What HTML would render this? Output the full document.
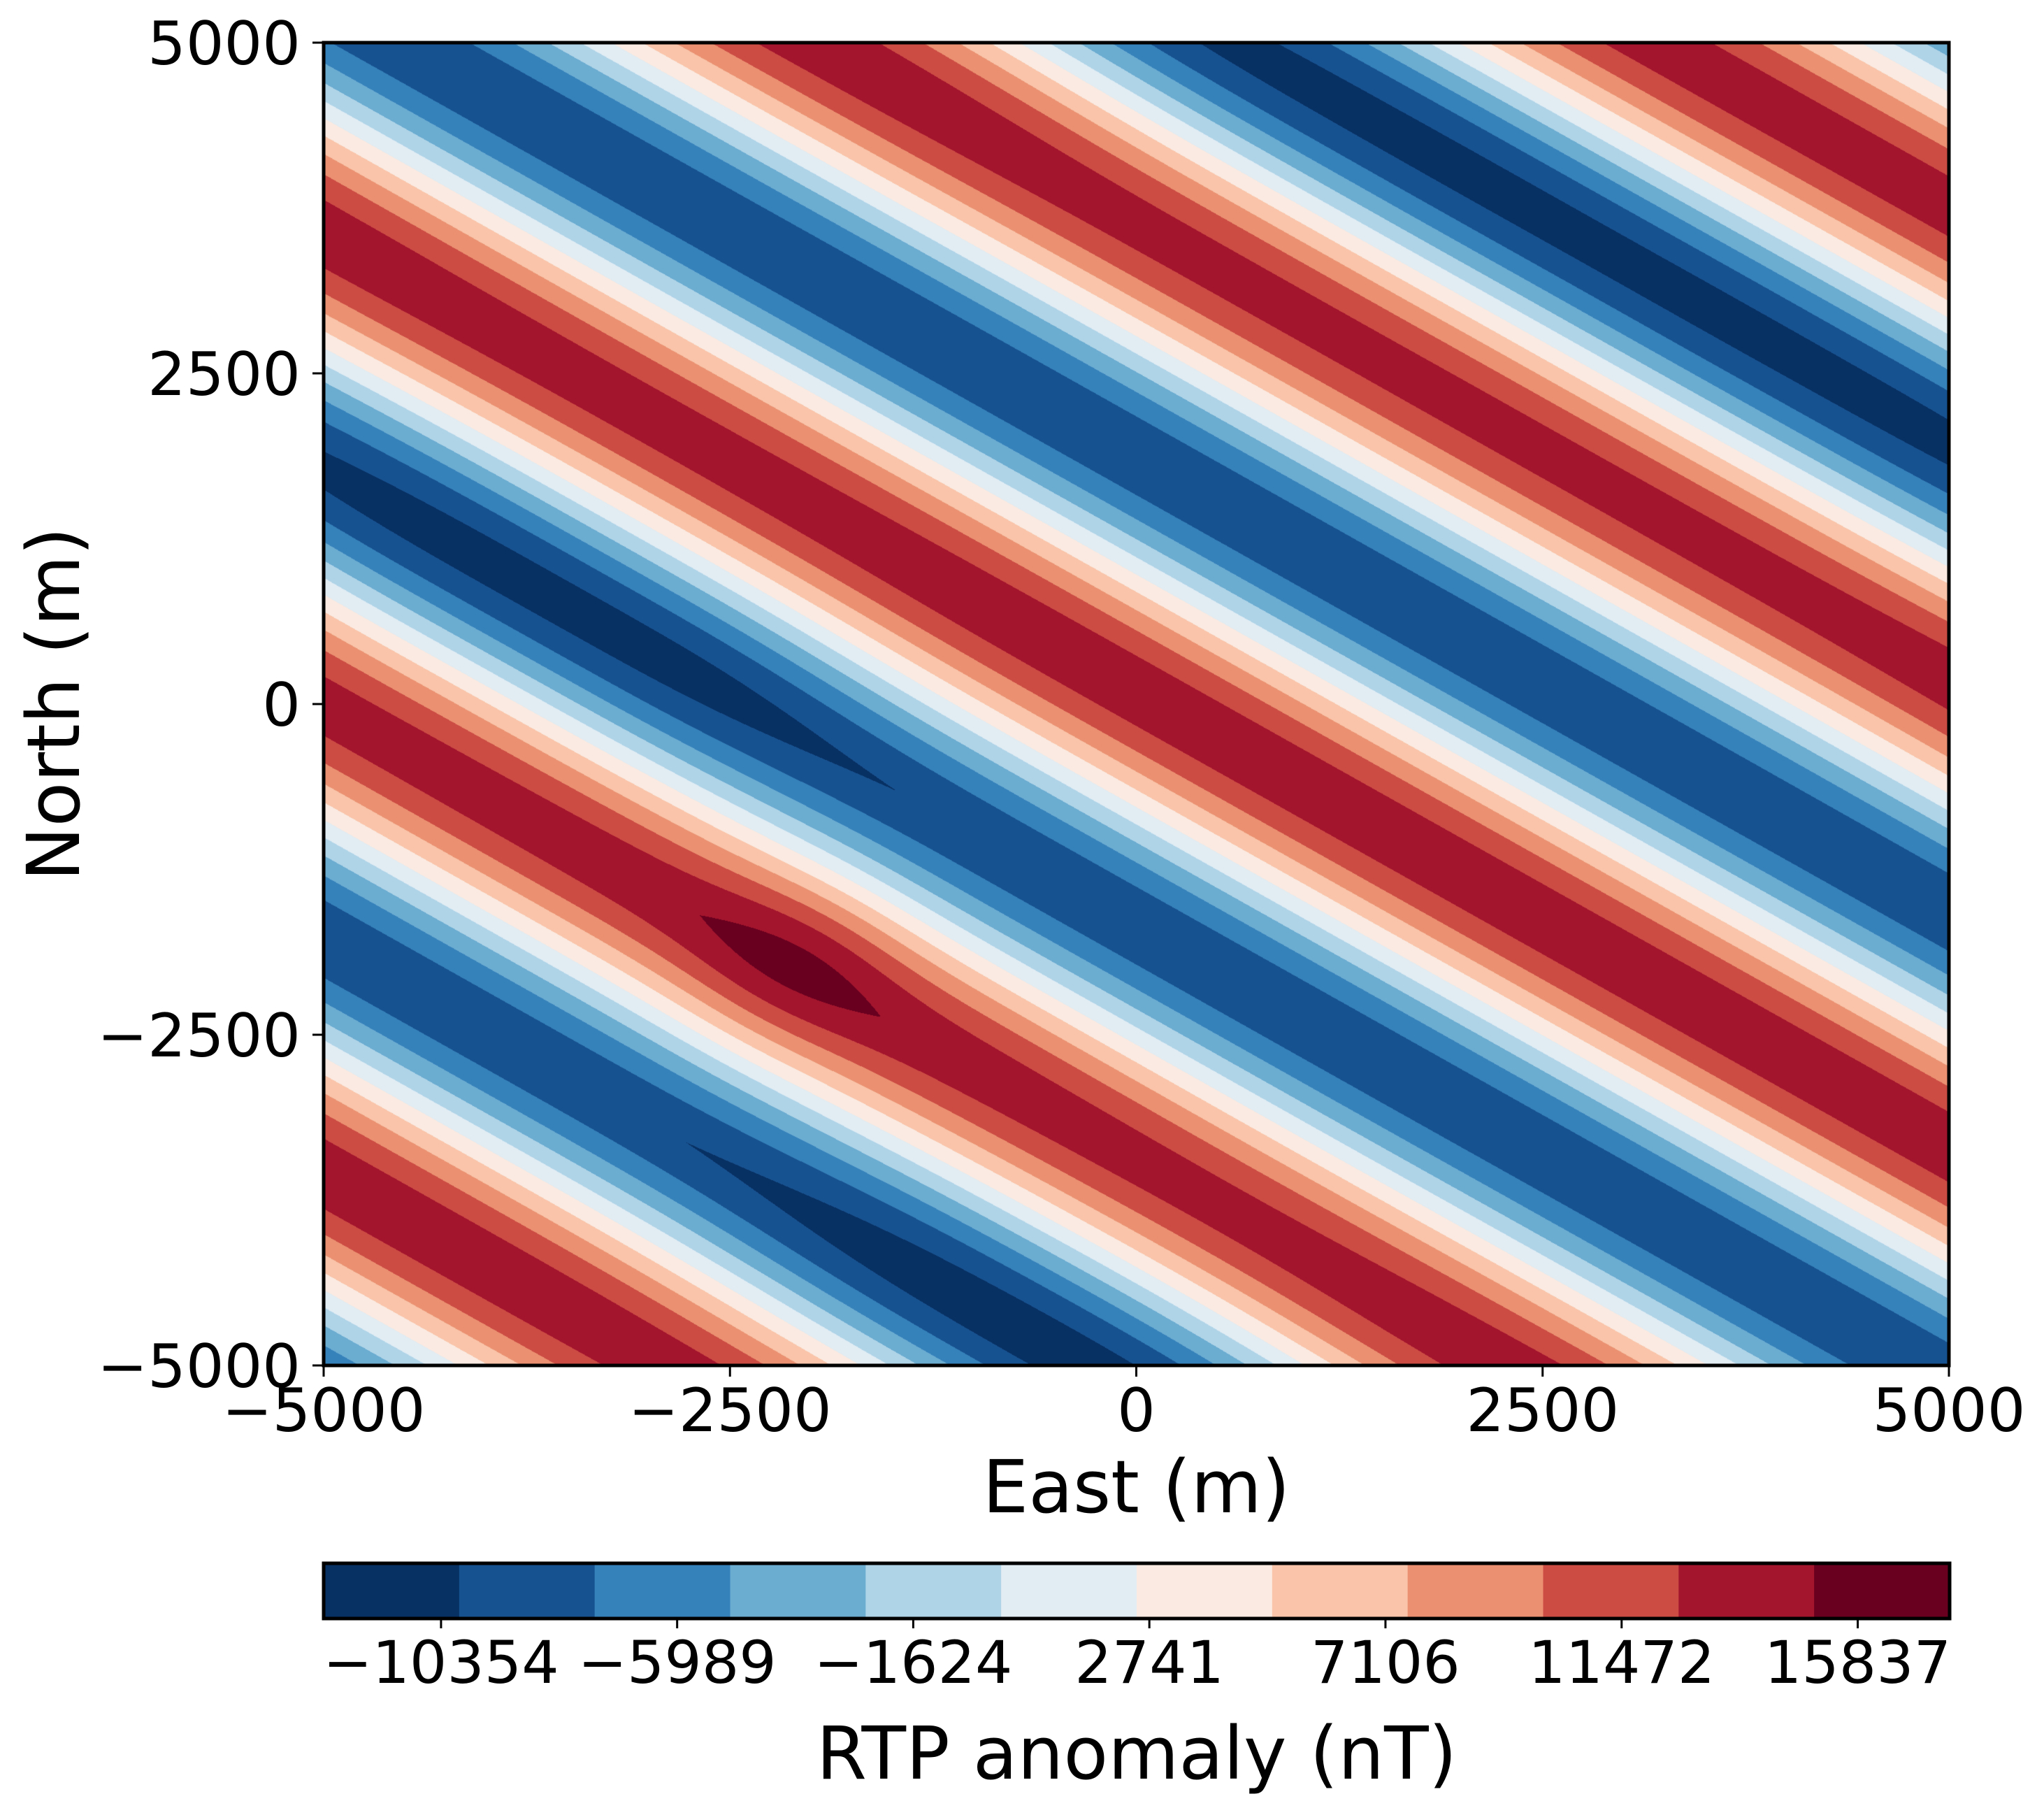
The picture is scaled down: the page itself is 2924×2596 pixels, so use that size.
<!DOCTYPE html>
<html><head><meta charset="utf-8">
<style>
html,body{margin:0;padding:0;background:#fff;}
#wrap{position:relative;width:2924px;height:2596px;overflow:hidden;}
canvas{position:absolute;}
svg{position:absolute;left:0;top:0;}
text{font-family:"DejaVu Sans","Liberation Sans",sans-serif;fill:#000;}
</style></head>
<body>
<div id="wrap">
<canvas id="field" width="2325" height="1892" style="left:463px;top:61px"></canvas>
<svg id="ax" width="2924" height="2596"></svg>
</div>
<script>
// ---- data ----
const xTicks = [-5000, -2500, 0, 2500, 5000];
const yTicks = [-5000, -2500, 0, 2500, 5000];
const cbarTicks = [-10354, -5989, -1624, 2741, 7106, 11472, 15837];
const levelEdges = [-12524, -10019, -7514, -5009, -2504, 1, 2506, 5011, 7516, 10021, 12526, 15031, 17536];
const levelColors = ['#073063','#175290','#3581ba','#6bacd1','#afd4e7','#e1ecf3','#faeae1','#f9c4a9','#eb9172','#cc4c44','#a3142d','#69001f'];
const waveMean = [2350];
const waveAmp = [12200];
const wavePeriod = [3550];
const waveSlope = [0.69];
const waveCrest = [3650];
const anomX = [500, 2000, 3500, 5000, -4800, -3600, -2600, -1500, -500, 300, -2100];
const anomY = [4800, 3800, 2800, 1800, 1500, 800, 100, -4100, -4700, -5200, -1950];
const anomAmp = [-1050, -1050, -1050, -1050, -950, -950, -850, -950, -950, -950, 1800];
const anomR = [1000, 1000, 1000, 1000, 900, 900, 750, 800, 900, 900, 450];

// ---- geometry ----
const L = 463, R = 2788, T = 61, B = 1953;
const X = v => L + (v + 5000) / 10000 * (R - L);
const Y = v => B - (v + 5000) / 10000 * (B - T);
const CL = 463, CR = 2789, CT = 2236, CB = 2315;
const CX = v => CL + (v - levelEdges[0]) / (levelEdges[levelEdges.length - 1] - levelEdges[0]) * (CR - CL);

function field(x, y) {
  const u = y + waveSlope[0] * x;
  const th = 2 * Math.PI * (u - waveCrest[0]) / wavePeriod[0];
  const c = Math.cos(th);
  const tri = (2 / Math.PI) * Math.asin(c);
  let v = waveMean[0] + waveAmp[0] * (0.7 * c + 0.3 * tri);
  for (let i = 0; i < anomX.length; i++) {
    const dx = x - anomX[i], dy = y - anomY[i];
    v += anomAmp[i] * Math.exp(-(dx * dx + dy * dy) / (2 * anomR[i] * anomR[i]));
  }
  return v;
}
function hex(h){return [parseInt(h.slice(1,3),16),parseInt(h.slice(3,5),16),parseInt(h.slice(5,7),16)];}
const rgb = levelColors.map(hex);

// ---- draw field ----
const cv = document.getElementById('field');
const ctx = cv.getContext('2d');
const W = cv.width, H = cv.height;
const img = ctx.createImageData(W, H);
for (let j = 0; j < H; j++) {
  const y = 5000 - (j + 0.5) / H * 10000;
  for (let i = 0; i < W; i++) {
    const x = -5000 + (i + 0.5) / W * 10000;
    const v = field(x, y);
    let k = 0;
    while (k < levelColors.length - 1 && v >= levelEdges[k + 1]) k++;
    const c = rgb[k], p = (j * W + i) * 4;
    img.data[p] = c[0]; img.data[p+1] = c[1]; img.data[p+2] = c[2]; img.data[p+3] = 255;
  }
}
ctx.putImageData(img, 0, 0);

// ---- axes ----
const svg = document.getElementById('ax');
const NS = 'http://www.w3.org/2000/svg';
function mk(tag, attrs, parent) {
  const e = document.createElementNS(NS, tag);
  for (const k in attrs) e.setAttribute(k, attrs[k]);
  (parent || svg).appendChild(e);
  return e;
}
const fmt = v => (v < 0 ? '\u2212' + Math.abs(v) : '' + v);

const frame = mk('rect', {x: L, y: T, width: R - L, height: B - T, fill: 'none', stroke: '#000', 'stroke-width': 5});



xTicks.forEach(v => {
  const t = mk('line', {x1: X(v), x2: X(v), y1: B, y2: B + 16, stroke: '#000', 'stroke-width': 3});
  
  
  const lb = mk('text', {x: X(v), y: 2047, 'font-size': 86, 'text-anchor': 'middle'});
  lb.textContent = fmt(v);
  
  
});
yTicks.forEach(v => {
  const t = mk('line', {x1: L - 16, x2: L, y1: Y(v), y2: Y(v), stroke: '#000', 'stroke-width': 3});
  
  
  const lb = mk('text', {x: 430, y: Y(v) + 31, 'font-size': 86, 'text-anchor': 'end'});
  lb.textContent = fmt(v);
  
  
});
const xt = mk('text', {x: (L + R) / 2, y: 2163, 'font-size': 104, 'text-anchor': 'middle'});
xt.textContent = 'East (m)';


const yt = mk('text', {x: 0, y: 0, 'font-size': 104, 'text-anchor': 'middle', transform: 'translate(113,' + (T + B) / 2 + ') rotate(-90)'});
yt.textContent = 'North (m)';



// ---- colorbar ----
levelColors.forEach((c, i) => {
  const r = mk('rect', {x: CX(levelEdges[i]), y: CT, width: CX(levelEdges[i + 1]) - CX(levelEdges[i]) + 0.5, height: CB - CT, fill: c});
  
  
});
const cf = mk('rect', {x: CL, y: CT, width: CR - CL, height: CB - CT, fill: 'none', stroke: '#000', 'stroke-width': 5});


cbarTicks.forEach(v => {
  const t = mk('line', {x1: CX(v), x2: CX(v), y1: CB, y2: CB + 14, stroke: '#000', 'stroke-width': 3});
  
  
  const lb = mk('text', {x: CX(v), y: 2407, 'font-size': 84, 'text-anchor': 'middle'});
  lb.textContent = fmt(v);
  
  
});
const ct = mk('text', {x: (CL + CR) / 2, y: 2544, 'font-size': 104, 'text-anchor': 'middle'});
ct.textContent = 'RTP anomaly (nT)';


</script>
</body></html>
